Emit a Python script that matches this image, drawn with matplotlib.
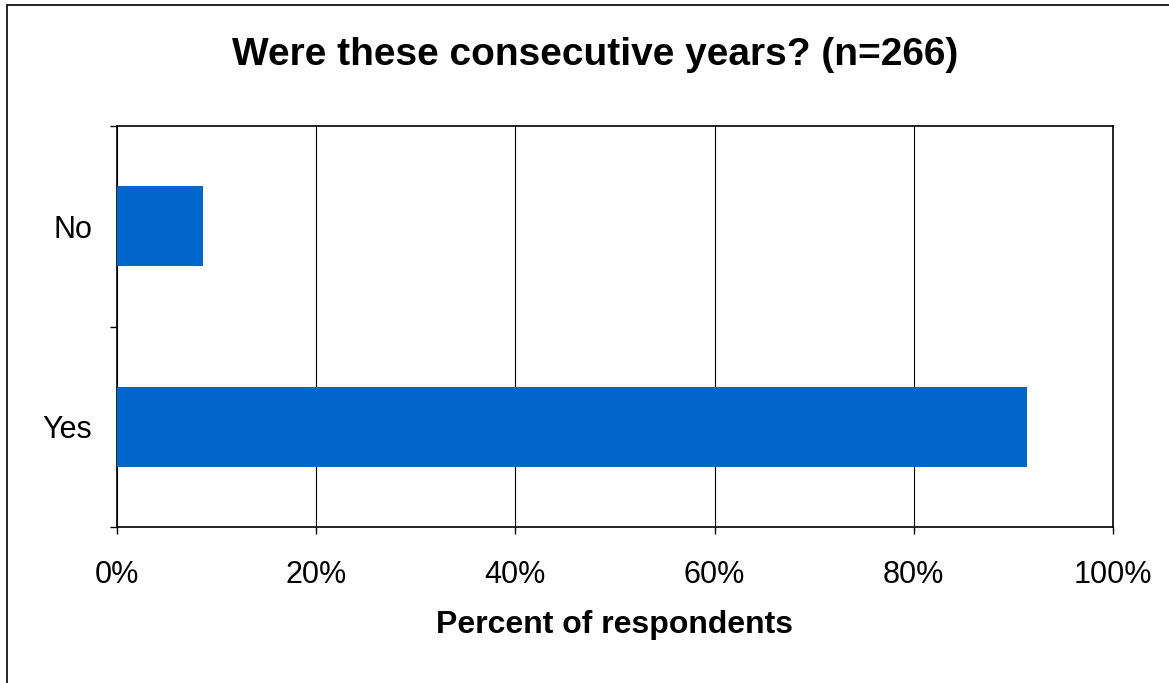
import matplotlib

matplotlib.use("Agg")
import matplotlib.pyplot as plt  # noqa: E402
from matplotlib.patches import Rectangle  # noqa: E402
from matplotlib.ticker import FixedLocator, FuncFormatter  # noqa: E402

categories = ["Yes", "No"]
percent = [91.4, 8.6]
x_ticks = [0, 20, 40, 60, 80, 100]

plt.rcParams["font.family"] = ["Liberation Sans", "DejaVu Sans"]

W, H = 1169, 683
fig = plt.figure(figsize=(W / 100, H / 100), dpi=100)
ax = fig.add_axes([117 / W, 1 - 527 / H, (1113 - 117) / W, (527 - 126) / H])

ax.barh(range(len(categories)), percent, height=0.4, color="#0066cc", zorder=3)

ax.set_xlim(0, 100)
ax.set_ylim(-0.5, len(categories) - 0.5)
ax.set_xticks(x_ticks)
ax.xaxis.set_major_formatter(FuncFormatter(lambda v, _: f"{v:.0f}%"))
ax.set_yticks(range(len(categories)))
ax.set_yticklabels(categories)
ax.yaxis.set_minor_locator(FixedLocator([-0.5, 0.5, 1.5]))
ax.tick_params(axis="y", which="major", length=0, pad=18, labelsize=22)
ax.tick_params(axis="y", which="minor", length=5, direction="out", width=1)
ax.tick_params(axis="x", length=5, direction="out", width=1, labelsize=22, pad=19)
ax.grid(axis="x", color="black", linewidth=0.8, zorder=0)
for s in ax.spines.values():
    s.set_color("black")
    s.set_linewidth(1.2)

fig.text(615 / W, 1 - 625 / H, "Percent of respondents",
         ha="center", va="center", fontsize=23, fontweight="bold")
fig.text(595 / W, 1 - 55 / H, "Were these consecutive years? (n=266)",
         ha="center", va="center", fontsize=28, fontweight="bold")

fig.patches.append(Rectangle((7 / W, -0.1), 1.2, 1 - 5 / H + 0.1,
                             transform=fig.transFigure, fill=False,
                             edgecolor="black", linewidth=1.2))

fig.savefig("out.png", dpi=100)
plt.close(fig)
